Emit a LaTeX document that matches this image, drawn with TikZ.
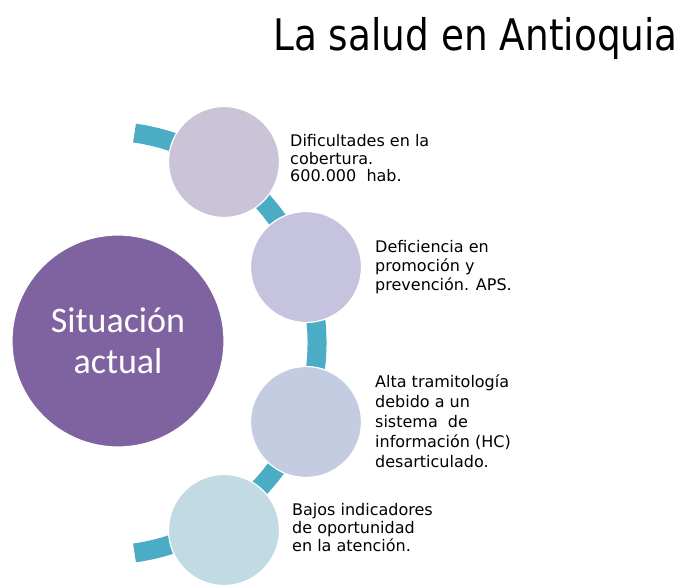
\documentclass[tikz,border=0pt]{standalone}
\usepackage{fontspec}
\usetikzlibrary{calc}
\setmainfont{DejaVu Sans}
\newfontfamily\calfont{Carlito}
\definecolor{bigpurple}{HTML}{7F62A0}
\definecolor{cA}{HTML}{CBC4D8}
\definecolor{cB}{HTML}{C6C3DE}
\definecolor{cC}{HTML}{C3CCE1}
\definecolor{cD}{HTML}{C1DAE3}
\definecolor{teal}{HTML}{4BACC6}
\tikzset{
  smallc/.style={circle, minimum size=111pt, inner sep=0pt, draw=white, line width=1.2pt},
  bigc/.style={circle, minimum size=212pt, inner sep=0pt, fill=bigpurple, draw=white, line width=1.2pt,
     text=white, align=center, font=\calfont\fontsize{36pt}{41pt}\selectfont},
  lbl/.style={anchor=north west, align=left, inner sep=0pt},
  band/.style={draw=teal, line width=19pt},
}
\begin{document}
\begin{tikzpicture}[x=1pt,y=-1pt]
\useasboundingbox (0,0) rectangle (685,584);
\coordinate (arcc) at (105,343);
\draw[band] ($(arcc)+(82:212pt)$) arc[start angle=82, end angle=-82, radius=212pt];
\node[smallc, fill=cA] (c1) at (224,162) {};
\node[smallc, fill=cB] (c2) at (306,267) {};
\node[smallc, fill=cC] (c3) at (306,422) {};
\node[smallc, fill=cD] (c4) at (224,530) {};
\node[bigc] (big) at (118,341) {Situación\\actual};
\node[anchor=base east, inner sep=0pt, font=\fontsize{43.5pt}{50pt}\selectfont] (title) at (678,50) {\scalebox{0.86}[1]{La salud en Antioquia}};
\node[lbl, font=\fontsize{16pt}{17.5pt}\selectfont] (t1) at (290,134.5) {Dificultades en la\\cobertura.\\600.000\ \ hab.};
\node[lbl, font=\fontsize{16pt}{19pt}\selectfont] (t2) at (375,240.5) {Deficiencia en\\promoción y\\prevención. APS.};
\node[lbl, font=\fontsize{16pt}{20pt}\selectfont] (t3) at (375,374) {Alta tramitología\\debido a un\\sistema\ \ de\\información (HC)\\desarticulado.};
\node[lbl, font=\fontsize{16pt}{18.3pt}\selectfont] (t4) at (292,503) {Bajos indicadores\\de oportunidad\\en la atención.};
\end{tikzpicture}
\end{document}
